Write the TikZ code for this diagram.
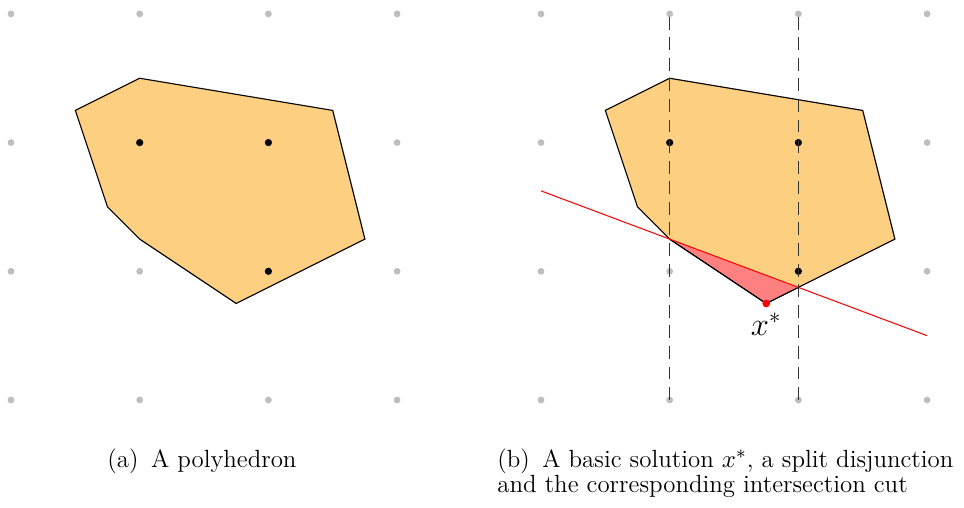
\documentclass[tikz,border=0pt]{standalone}
\usepackage{xcolor}
\definecolor{polyfill}{RGB}{253,207,128}
\definecolor{cutfill}{RGB}{255,128,128}
\definecolor{griddot}{RGB}{190,190,190}
\begin{document}
\begin{tikzpicture}[x=2cm,y=2cm,
  gdot/.style={circle,fill=griddot,inner sep=0pt,minimum size=3pt},
  bdot/.style={circle,fill=black,inner sep=0pt,minimum size=3.2pt},
  rdot/.style={circle,fill=red,inner sep=0pt,minimum size=3.4pt},
  poly/.style={fill=polyfill,draw=black,line width=0.5pt,line join=miter},
  split/.style={draw=black!80,line width=0.55pt,dash pattern=on 5.7pt off 3.4pt},
  cutline/.style={draw=red,line width=0.45pt},
  captext/.style={anchor=base west,inner sep=0pt,font=\fontsize{11}{13}\selectfont}]
\useasboundingbox (-0.0855,-0.839) rectangle (7.405,3.108);
% ---------- (a) ----------
\begin{scope}
  \foreach \x in {0,...,3}
    \foreach \y in {0,...,3}
      \node[gdot] (ga\x\y) at (\x,\y) {};
  \coordinate (a1) at (0.5,2.25);
  \coordinate (a2) at (1,2.5);
  \coordinate (a3) at (2.5,2.25);
  \coordinate (a4) at (2.75,1.25);
  \coordinate (a5) at (1.75,0.75);
  \coordinate (a6) at (1,1.25);
  \coordinate (a7) at (0.75,1.5);
  \path[poly] (a1) -- (a2) -- (a3) -- (a4) -- (a5) -- (a6) -- (a7) -- cycle;
  \node[bdot] (pa1) at (1,2) {};
  \node[bdot] (pa2) at (2,2) {};
  \node[bdot] (pa3) at (2,1) {};
\end{scope}
\node[captext] (capA) at (0.746,-0.528) {(a)\hspace{5.5pt}A polyhedron};
% ---------- (b) ----------
\begin{scope}[xshift=8.236cm]
  \foreach \x in {0,...,3}
    \foreach \y in {0,...,3}
      \node[gdot] (gb\x\y) at (\x,\y) {};
  \coordinate (b1) at (0.5,2.25);
  \coordinate (b2) at (1,2.5);
  \coordinate (b3) at (2.5,2.25);
  \coordinate (b4) at (2.75,1.25);
  \coordinate (b5) at (1.75,0.75);
  \coordinate (b6) at (1,1.25);
  \coordinate (b7) at (0.75,1.5);
  \coordinate (bq) at (2,0.875);
  \path[poly] (b1) -- (b2) -- (b3) -- (b4) -- (b5) -- (b6) -- (b7) -- cycle;
  \path[fill=cutfill] (b6) -- (b5) -- (bq) -- cycle;
  \draw[line width=0.5pt] (b6) -- (b5) -- (bq);
  \node[bdot] (pb1) at (1,2) {};
  \node[bdot] (pb2) at (2,2) {};
  \node[bdot] (pb3) at (2,1) {};
  \coordinate (cs) at (0,1.625);
  \coordinate (ce) at (3,0.5);
  \path[cutline] (cs) -- (ce);
  \path[split] (gb10.center) -- (gb13.center);
  \path[split] (gb20.center) -- (gb23.center);
  \node[rdot] (xs) at (b5) {};
  \node[anchor=north, inner sep=0pt, font=\Large] (xslabel) at ([yshift=-2pt]xs.south) {$x^*$};
\end{scope}
\node[captext] (capB1) at (3.776,-0.528) {(b)\hspace{5.5pt}A basic solution $x^*$, a split disjunction};
\node[captext] (capB2) at (3.776,-0.715) {and the corresponding intersection cut};
\end{tikzpicture}
\end{document}
